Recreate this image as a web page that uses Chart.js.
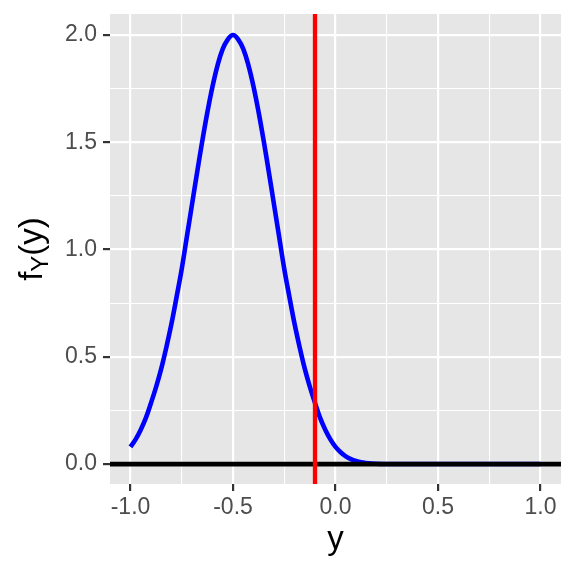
<!DOCTYPE html>
<html>
<head>
<meta charset="utf-8">
<script src="https://cdn.jsdelivr.net/npm/chart.js@4.4.1/dist/chart.umd.min.js"></script>
<style>
  html, body { margin: 0; padding: 0; background: #ffffff; }
  canvas { display: block; }
</style>
</head>
<body>
<canvas id="chart" width="576" height="576"></canvas>
<script>
// density curve
const yValues = [-1.000, -0.975, -0.950, -0.925, -0.900, -0.875, -0.850, -0.825, -0.800, -0.775,
  -0.750, -0.725, -0.700, -0.675, -0.650, -0.625, -0.600, -0.575, -0.550, -0.525,
  -0.500, -0.475, -0.450, -0.425, -0.400, -0.375, -0.350, -0.325, -0.300, -0.275,
  -0.250, -0.225, -0.200, -0.175, -0.150, -0.125, -0.100, -0.075, -0.050, -0.025,
  0.000, 0.025, 0.050, 0.075, 0.100, 0.125, 0.150, 0.200, 0.250, 0.300, 0.400, 0.600, 0.800, 1.000];
const density = [0.08, 0.115, 0.16, 0.215, 0.285, 0.36, 0.445, 0.545, 0.655, 0.78,
  0.91, 1.06, 1.21, 1.36, 1.505, 1.64, 1.76, 1.86, 1.935, 1.98,
  2.00, 1.98, 1.935, 1.86, 1.76, 1.64, 1.505, 1.36, 1.21, 1.06,
  0.91, 0.78, 0.655, 0.545, 0.445, 0.36, 0.285, 0.215, 0.16, 0.115,
  0.08, 0.055, 0.036, 0.023, 0.014, 0.008, 0.005, 0.0015, 0.0004, 0, 0, 0, 0, 0];

const cutoff = -0.1;      // red vertical line
const baseline = 0;       // black horizontal line

const xRange = [-1.1, 1.1];
const yRange = [-0.093, 2.098];
const xTicks = [-1, -0.75, -0.5, -0.25, 0, 0.25, 0.5, 0.75, 1];
const yTicks = [0, 0.25, 0.5, 0.75, 1, 1.25, 1.5, 1.75, 2];

const isMajor = (v) => Math.abs(v * 2 - Math.round(v * 2)) < 1e-9;
const fontFamily = "'Liberation Sans', Arial, Helvetica, sans-serif";

const panelBg = {
  id: "panelBg",
  beforeDraw(chart) {
    const { ctx, chartArea: a } = chart;
    ctx.save();
    ctx.fillStyle = "#E6E6E6";
    ctx.fillRect(a.left, a.top, a.right - a.left, a.bottom - a.top);
    ctx.restore();
  },
};

const axisTitles = {
  id: "axisTitles",
  afterDraw(chart) {
    const { ctx, chartArea: a } = chart;
    ctx.save();
    ctx.fillStyle = "#000000";
    ctx.textBaseline = "alphabetic";

    // x title
    ctx.font = `33px ${fontFamily}`;
    ctx.textAlign = "center";
    ctx.fillText("y", (a.left + a.right) / 2, 549);

    // y title f_Y(y)
    const big = `33px ${fontFamily}`;
    const small = `24px ${fontFamily}`;
    ctx.font = big;
    const wf = ctx.measureText("f").width;
    const wp = ctx.measureText("(y)").width;
    ctx.font = small;
    const wY = ctx.measureText("Y").width;
    const total = wf + wY + wp;
    ctx.translate(42, (a.top + a.bottom) / 2);
    ctx.rotate(-Math.PI / 2);
    ctx.textAlign = "left";
    let x = -total / 2;
    ctx.font = big;
    ctx.fillText("f", x, 0);
    x += wf;
    ctx.font = small;
    ctx.fillText("Y", x, 6);
    x += wY;
    ctx.font = big;
    ctx.fillText("(y)", x, 0);
    ctx.restore();
  },
};

const gridOpts = {
  color: "#FFFFFF",
  lineWidth: (c) => (c.tick && isMajor(c.tick.value) ? 2.2 : 1.1),
  tickColor: (c) => (c.tick && isMajor(c.tick.value) ? "#333333" : "rgba(0,0,0,0)"),
  tickWidth: 2.2,
  tickLength: 7,
  drawTicks: true,
};

new Chart(document.getElementById("chart"), {
  type: "scatter",
  data: {
    datasets: [
      {
        label: "cutoff",
        data: [{ x: cutoff, y: yRange[0] }, { x: cutoff, y: yRange[1] }],
        showLine: true,
        borderColor: "#FF0000",
        borderWidth: 4.3,
        pointRadius: 0,
        order: 0,
      },
      {
        label: "zero",
        data: [{ x: xRange[0], y: baseline }, { x: xRange[1], y: baseline }],
        showLine: true,
        borderColor: "#000000",
        borderWidth: 4.8,
        pointRadius: 0,
        order: 1,
      },
      {
        label: "density",
        data: yValues.map((v, i) => ({ x: v, y: density[i] })),
        showLine: true,
        borderColor: "#0000FF",
        borderWidth: 4.6,
        pointRadius: 0,
        tension: 0.4,
        borderCapStyle: "butt",
        borderJoinStyle: "round",
        order: 2,
      },
    ],
  },
  options: {
    responsive: false,
    animation: false,
    layout: { padding: { top: 14, right: 15, left: 0, bottom: 0 } },
    plugins: { legend: { display: false }, tooltip: { enabled: false } },
    scales: {
      x: {
        type: "linear",
        min: xRange[0],
        max: xRange[1],
        afterBuildTicks: (s) => { s.ticks = xTicks.map((v) => ({ value: v })); },
        afterFit: (s) => { s.height = 92; s.paddingLeft = 0; s.paddingRight = 0; },
        grid: gridOpts,
        border: { display: false },
        ticks: {
          color: "#4D4D4D",
          font: { family: fontFamily, size: 23 },
          padding: 3,
          maxRotation: 0,
          autoSkip: false,
          callback: (v) => (isMajor(v) ? v.toFixed(1) : ""),
        },
      },
      y: {
        type: "linear",
        min: yRange[0],
        max: yRange[1],
        afterBuildTicks: (s) => { s.ticks = yTicks.map((v) => ({ value: v })); },
        afterFit: (s) => { s.width = 110; s.paddingTop = 0; s.paddingBottom = 0; },
        grid: gridOpts,
        border: { display: false },
        ticks: {
          color: "#4D4D4D",
          font: { family: fontFamily, size: 23 },
          padding: 6,
          autoSkip: false,
          callback: (v) => (isMajor(v) ? v.toFixed(1) : ""),
        },
      },
    },
  },
  plugins: [panelBg, axisTitles],
});
</script>
</body>
</html>
